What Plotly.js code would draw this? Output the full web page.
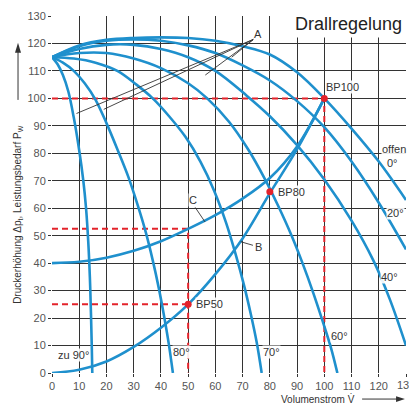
<!DOCTYPE html>
<html><head><meta charset="utf-8">
<script src="https://cdn.plot.ly/plotly-3.0.1.min.js"></script>
<style>html,body{margin:0;padding:0;background:#fff}</style>
</head><body>
<div id="chart" style="width:409px;height:408px"></div>
<script>
// Vane characteristic curves (Volumenstrom, Druckerhöhung)
const curve90x = [0, 2, 4, 6, 8, 10, 11.5, 12.5, 13.3, 13.9, 14.3, 14.6, 14.8];
const curve90y = [115, 112.5, 108.5, 102.5, 93, 81, 70, 60, 48, 35, 22, 10, 0];
const curve80x = [0, 4, 8, 12, 16, 20, 24, 28, 31.5, 34.5, 37, 39.2, 41.1, 42.9, 44.4];
const curve80y = [115, 113, 110, 105.5, 99.5, 91, 81.5, 71.5, 61, 51, 41, 31, 21, 10.5, 0];
const curve70x = [0, 8, 16, 24, 31, 37, 43, 49, 54.5, 59.5, 64, 67.5, 70.5, 73, 75.2, 77];
const curve70y = [115, 114.5, 113, 110, 105, 100, 93.5, 86, 77, 66.5, 54.5, 43, 32, 21.5, 11, 0];
const curve60x = [0, 10, 20, 30, 40, 50, 57, 65, 72, 78, 83, 88, 92, 96, 99.5, 102.5, 104.8];
const curve60y = [115, 116.5, 116.5, 114.5, 111, 105.5, 100, 91.5, 81.5, 71, 61, 50, 40, 29, 18.5, 9, 0];
const curve40x = [0, 10, 20, 30, 40, 50, 60, 71.5, 80, 90, 100, 110, 118, 124, 130];
const curve40y = [115, 118, 119.5, 119.5, 118, 115, 110, 101, 93.5, 83, 70.5, 55.5, 41, 27, 10];
const curve20x = [0, 10, 20, 30, 40, 50, 60, 70, 80, 90, 100, 110, 120, 130];
const curve20y = [115, 119, 121, 121.5, 121, 119.3, 116.5, 112, 106.5, 99, 89.5, 77, 62, 45];
const curve0x = [0, 10, 20, 30, 40, 50, 60, 70, 80, 90, 100, 110, 120, 130];
const curve0y = [115, 119.3, 121.3, 122, 122.2, 122, 121, 119, 116, 109.5, 100, 89, 77, 63];
// System curves B and C
const curveBx = [0, 10, 20, 30, 40, 50, 60, 70, 80, 90, 100];
const curveBy = [0, 1.2, 4.2, 9.5, 16.5, 25, 36, 49, 65.5, 81.5, 100];
const curveCx = [0, 10, 20, 30, 40, 50, 60, 70, 80, 90, 100];
const curveCy = [40, 40.5, 42, 44.5, 48, 52.5, 57.5, 63.5, 71, 82.5, 100];
// Operating points
const bpNames = ['BP100', 'BP80', 'BP50'];
const bpX = [100, 80, 50];
const bpY = [100, 66, 25];
const cLevel = 52.5;
// Axis ticks
const tickVals = [0, 10, 20, 30, 40, 50, 60, 70, 80, 90, 100, 110, 120, 130];
// Curve labels
const labelText = ['offen', '0°', '20°', '40°', '60°', '70°', '80°', 'zu 90°', 'B', 'C', 'A'];
const labelX = [125.6, 125.2, 126.3, 123.8, 105.5, 80.5, 47.5, 8, 75.7, 51.8, 75.5];
const labelY = [81.5, 76.5, 58.2, 34.8, 13.3, 7.5, 7.5, 6.5, 46, 62.9, 123.5];
// Leader lines: A to curves, B and C short leaders
const leadX0 = [74, 74, 74, 74, 69.3, 52.6];
const leadY0 = [121.5, 121.5, 121.5, 121.5, 47.8, 60.3];
const leadX1 = [9, 19, 56.3, 66, 73.8, 56.2];
const leadY1 = [94.5, 96, 108.5, 115, 46.5, 55];

const blue = '#1f90cd';
const mk = (x, y) => ({x, y, type: 'scatter', mode: 'lines', line: {color: blue, width: 2.6, shape: 'spline', smoothing: 1}, hoverinfo: 'skip'});
const red = '#e3232b';
const dash = {color: red, width: 2, dash: '6px,4px'};
const traces = [];
traces.push({x: [0, bpX[0], bpX[0]], y: [bpY[0], bpY[0], 0], mode: 'lines', line: dash});
traces.push({x: [0, bpX[2], bpX[2]], y: [cLevel, cLevel, 0], mode: 'lines', line: dash});
traces.push({x: [0, bpX[2]], y: [bpY[2], bpY[2]], mode: 'lines', line: dash});
[[curve90x, curve90y], [curve80x, curve80y], [curve70x, curve70y], [curve60x, curve60y], [curve40x, curve40y], [curve20x, curve20y], [curve0x, curve0y], [curveBx, curveBy], [curveCx, curveCy]].forEach(c => traces.push(mk(c[0], c[1])));
traces.push({x: bpX, y: bpY, mode: 'markers', marker: {color: red, size: 7}});

const fam = 'Liberation Sans, Arial, sans-serif';
const annotations = [];
labelText.forEach((t, i) => annotations.push({x: labelX[i], y: labelY[i], text: t, showarrow: false, font: {family: fam, size: 11, color: '#333'}, bgcolor: 'rgba(255,255,255,0.9)', borderpad: 0}));
bpNames.forEach((t, i) => annotations.push({x: bpX[i], y: bpY[i], text: t, showarrow: false, xanchor: 'left', yanchor: i === 0 ? 'bottom' : 'middle', xshift: i === 0 ? 1 : 7, yshift: i === 0 ? 4 : 0, font: {family: fam, size: 11, color: '#333'}, bgcolor: 'rgba(255,255,255,0.9)', borderpad: 0}));
annotations.push({xref: 'paper', yref: 'paper', x: 1.0, y: 1.0, xanchor: 'right', yanchor: 'middle', yshift: -8, text: 'Drallregelung', showarrow: false, font: {family: fam, size: 18, color: '#222'}, bgcolor: '#fff', borderpad: 3});
annotations.push({xref: 'paper', yref: 'paper', x: 0.862, y: -0.073, xanchor: 'right', yanchor: 'middle', text: 'Volumenstrom V̇', showarrow: false, font: {family: fam, size: 10, color: '#333'}});
annotations.push({xref: 'paper', yref: 'paper', x: -0.096, y: 0.443, xanchor: 'center', yanchor: 'middle', textangle: -90, text: 'Druckerhöhung Δp<sub>t</sub>, Leistungsbedarf P<sub>W</sub>', showarrow: false, font: {family: fam, size: 10, color: '#333'}});
annotations.push({x: 130, xref: 'x', yref: 'paper', y: 0, yanchor: 'top', yshift: -4, text: '130', showarrow: false, font: {family: fam, size: 11, color: '#555'}});

const shapes = [];
leadX0.forEach((x, i) => shapes.push({type: 'line', xref: 'x', yref: 'y', x0: x, y0: leadY0[i], x1: leadX1[i], y1: leadY1[i], line: {color: '#333', width: 0.9}}));
// axis-title arrows
shapes.push({type: 'line', xref: 'paper', yref: 'paper', x0: -0.096, x1: -0.096, y0: 0.765, y1: 0.9, line: {color: '#333', width: 1}});
shapes.push({type: 'path', xref: 'paper', yref: 'paper', path: 'M -0.1045,0.897 L -0.0875,0.897 L -0.096,0.925 Z', fillcolor: '#333', line: {width: 0}});
shapes.push({type: 'line', xref: 'paper', yref: 'paper', x0: 0.876, x1: 0.978, y0: -0.073, y1: -0.073, line: {color: '#333', width: 1}});
shapes.push({type: 'path', xref: 'paper', yref: 'paper', path: 'M 0.972,-0.065 L 0.972,-0.081 L 0.997,-0.073 Z', fillcolor: '#333', line: {width: 0}});

const axis = {range: [0, 130], tickvals: tickVals, showgrid: true, gridcolor: '#333', gridwidth: 1.1, zeroline: false, showline: false, ticks: 'outside', ticklen: 3, tickcolor: '#333', tickfont: {family: fam, size: 11, color: '#555'}, fixedrange: true};
Plotly.newPlot('chart', traces, {
  width: 409, height: 408,
  margin: {l: 52, r: 3, t: 16, b: 35},
  paper_bgcolor: '#fff', plot_bgcolor: '#fff',
  showlegend: false,
  xaxis: Object.assign({}, axis),
  yaxis: Object.assign({}, axis),
  annotations: annotations,
  shapes: shapes
}, {staticPlot: true});
</script>
</body></html>
